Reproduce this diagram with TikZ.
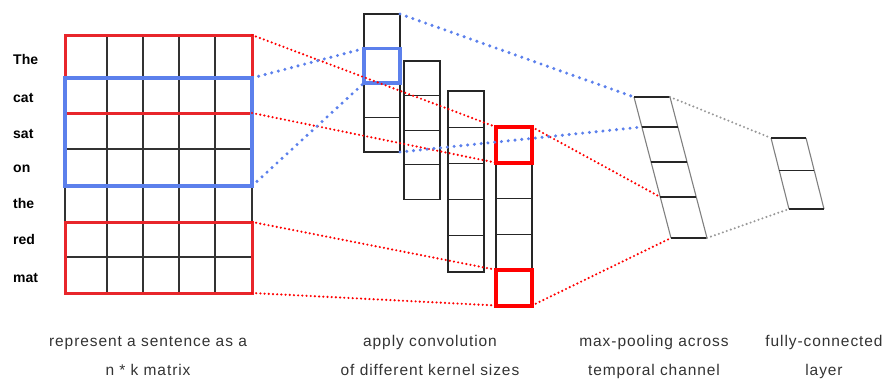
\documentclass[tikz,border=0pt]{standalone}
\usepackage{fontspec}
\setmainfont{Liberation Sans}
\newfontfamily\capfont[LetterSpace=6]{Liberation Sans}
\usetikzlibrary{fit}
\definecolor{WinRed}{HTML}{E8262B}
\definecolor{KerRed}{HTML}{FF0000}
\definecolor{WinBlue}{HTML}{5C80EC}
\definecolor{DotGray}{HTML}{999999}

\begin{document}
\begin{tikzpicture}[x=1pt,y=-1pt,
 gridline/.style={draw=black!80,line width=1.1pt},
 cell/.style={draw=black!85,line width=1.1pt,minimum width=36pt,inner sep=0pt,outer sep=0pt,anchor=north west},
 word/.style={font=\bfseries\fontsize{14}{16}\selectfont,anchor=base west,inner sep=0pt},
 caption/.style={font=\capfont\fontsize{15.5}{18}\selectfont,text=black!80,anchor=base,inner sep=0pt},
 redwin/.style={draw=WinRed,line width=3pt,inner sep=0pt,outer sep=0pt},
 bluewin/.style={draw=WinBlue,line width=3.6pt,inner sep=0pt,outer sep=0pt},
 redker/.style={draw=KerRed,line width=4pt,inner sep=0pt,outer sep=0pt},
 bluedots/.style={draw=WinBlue,line width=3.4pt,line cap=round,dash pattern=on 0pt off 6.8pt},
 reddots/.style={draw=KerRed,line width=2.4pt,line cap=round,dash pattern=on 0pt off 4.2pt},
 graydots/.style={draw=DotGray,line width=2.3pt,line cap=round,dash pattern=on 0pt off 4.2pt},
 slant/.style={draw=black!50,line width=1.1pt},
 bar/.style={draw=black!85,line width=1.2pt}]
\useasboundingbox (0,0) rectangle (887,378);

% sentence matrix
\foreach \y in {78,113,149,186,222,257}
  \draw[gridline] (65,\y) -- (252,\y);
\foreach \x in {107,143,179,215}
  \draw[gridline] (\x,35) -- (\x,293);
\draw[gridline] (65,35) rectangle (252,293);
\foreach \w/\y in {The/64,cat/102,sat/138,on/172,the/208,red/244,mat/282}
  \node[word] (w\w) at (13,\y) {\w};

\node[redwin,fit={(65,35) (252,113)}] (win1) {};
\node[redwin,fit={(65,222) (252,293)}] (win2) {};
\node[bluewin,fit={(65,78) (252,186)}] (win0) {};

% feature maps
\foreach \c/\x/\y/\n/\h in {1/364/14/4/34.5,2/404/61/4/34.6,3/448/91/5/36.2,4/496/127/5/35.7}
  \foreach \i in {1,...,\n}
    \node[cell,minimum height=\h] (c\c-\i) at (\x,{\y+(\i-1)*\h}) {};

\node[bluewin,fit=(c1-2)] (bk) {};
\node[redker,fit=(c4-1)] (rk1) {};
\node[redker,fit=(c4-5)] (rk2) {};

% max-pooling
\foreach \i/\y in {0/97,1/127,2/162,3/197,4/238} {
  \coordinate (pl\i) at ({634+(\y-97)*0.2624},\y);
  \coordinate (pr\i) at ({670+(\y-97)*0.2624},\y);
}
\draw[slant] (pl0) -- (pl4);
\draw[slant] (pr0) -- (pr4);
\foreach \i in {0,...,4}
  \draw[bar] (pl\i) -- (pr\i);

% fully-connected
\foreach \i/\y in {0/138,1/170.5,2/209} {
  \coordinate (fl\i) at ({771+(\y-138)*0.2535},\y);
  \coordinate (fr\i) at ({806+(\y-138)*0.2535},\y);
}
\draw[slant] (fl0) -- (fl2);
\draw[slant] (fr0) -- (fr2);
\foreach \i in {0,...,2}
  \draw[bar] (fl\i) -- (fr\i);

% connections
\draw[reddots] (win1.north east) -- (rk1.north west);
\draw[reddots] (win1.south east) -- (rk1.south west);
\draw[reddots] (win2.north east) -- (rk2.north west);
\draw[reddots] (win2.south east) -- (rk2.south west);
\draw[reddots] (rk1.north east) -- (pl3);
\draw[reddots] (rk2.south east) -- (pl4);
\draw[graydots] (pr0) -- (fl0);
\draw[graydots] (pr4) -- (fl2);
\draw[bluedots] (win0.north east) -- (bk.north west);
\draw[bluedots] (win0.south east) -- (bk.south west);
\draw[bluedots] (c1-1.north east) -- (pl0);
\draw[bluedots] (c1-4.south east) -- (pl1);

% captions
\node[caption] (cap1a) at (148,346) {represent a sentence as a};
\node[caption] (cap1b) at (148,375) {n * k matrix};
\node[caption] (cap2a) at (430,346) {apply convolution};
\node[caption] (cap2b) at (430,375) {of different kernel sizes};
\node[caption] (cap3a) at (654,346) {max-pooling across};
\node[caption] (cap3b) at (654,375) {temporal channel};
\node[caption] (cap4a) at (824,346) {fully-connected};
\node[caption] (cap4b) at (824,375) {layer};
\end{tikzpicture}
\end{document}
